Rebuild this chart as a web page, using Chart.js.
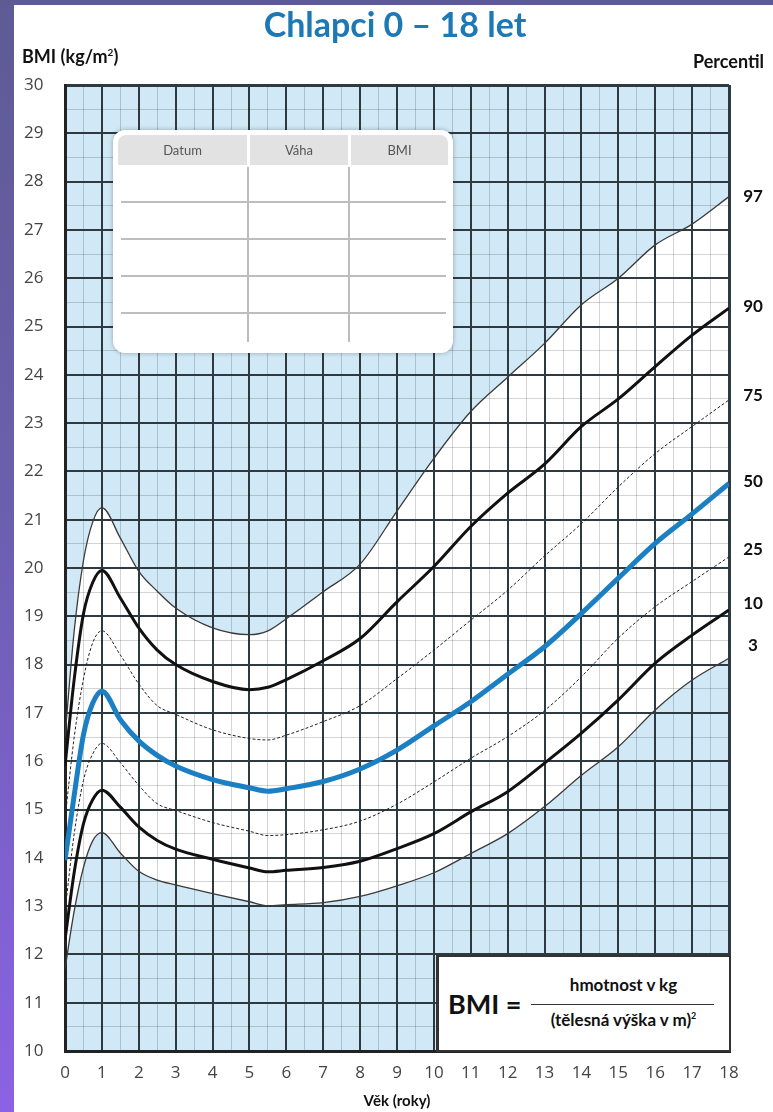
<!DOCTYPE html>
<html>
<head>
<meta charset="utf-8">
<script src="https://cdn.jsdelivr.net/npm/chart.js@4.4.1/dist/chart.umd.min.js"></script>
<style>
  html, body { margin: 0; padding: 0; }
  body {
    width: 773px; height: 1112px; overflow: hidden; position: relative;
    background: linear-gradient(180deg, #5e5b94 0%, #6a5fae 45%, #8b62e4 100%);
    font-family: 'Lato', 'DejaVu Sans', sans-serif;
  }
  #card { position: absolute; left: 14px; top: 5px; right: 0; bottom: 0; background: #fff; }
  #chart { position: absolute; left: 0; top: 0; }
  .txt { position: absolute; white-space: nowrap; color: #111; }
  #title { left: 0; width: 790px; top: 3px; text-align: center; font-size: 34px; font-weight: bold; color: #1d78b6; }
  #ylab { left: 22px; top: 45px; font-size: 18px; font-weight: bold; }
  #ylab sup { font-size: 10px; }
  #pct { right: 9px; top: 50px; font-size: 18px; font-weight: bold; }

  /* zapisova tabulka */
  #tab { position: absolute; left: 113px; top: 130px; width: 340px; height: 223px; background: #fff;
         border-radius: 12px; box-shadow: 0 0 5px rgba(0,0,0,0.3); }
  #tabHead { position: absolute; left: 5px; top: 5px; width: 330px; height: 30px; background: #e2e2e2; border-radius: 8px 8px 0 0; }
  .hcell { position: absolute; top: 0; height: 30px; line-height: 30px; text-align: center; font-size: 13px; color: #555; }
  .hgap { position: absolute; top: 0; width: 3px; height: 30px; background: #fff; }
  .hline { position: absolute; left: 8px; width: 325px; height: 2px; background: #bdbdbd; }
  .vline { position: absolute; top: 37px; width: 2px; height: 175px; background: #bdbdbd; }

  /* vzorec BMI */
  #formula { position: absolute; left: 436px; top: 955px; width: 290px; height: 93px; background: #fff;
             border: 2px solid #333; border-left-width: 3px; }
  #fBmi { position: absolute; left: 9px; top: 30px; font-size: 27px; font-weight: bold; }
  #fNum { position: absolute; left: 92px; width: 185px; top: 17px; text-align: center; font-size: 17px; font-weight: bold; }
  #fBar { position: absolute; left: 92px; width: 183px; top: 47px; height: 1px; background: #333; }
  #fDen { position: absolute; left: 92px; width: 185px; top: 52px; text-align: center; font-size: 17px; font-weight: bold; }
  #fDen sup { font-size: 9px; }
</style>
</head>
<body>
<div id="card"></div>
<canvas id="chart" width="773" height="1112"></canvas>

<div class="txt" id="title">Chlapci 0 – 18 let</div>
<div class="txt" id="ylab">BMI (kg/m<sup>2</sup>)</div>
<div class="txt" id="pct">Percentil</div>

<div id="tab">
  <div id="tabHead">
    <div class="hcell" style="left:0;width:129px;">Datum</div>
    <div class="hgap" style="left:129px;"></div>
    <div class="hcell" style="left:132px;width:98px;">Váha</div>
    <div class="hgap" style="left:230px;"></div>
    <div class="hcell" style="left:233px;width:97px;">BMI</div>
  </div>
  <div class="hline" style="top:71px;"></div>
  <div class="hline" style="top:108px;"></div>
  <div class="hline" style="top:145px;"></div>
  <div class="hline" style="top:182px;"></div>
  <div class="vline" style="left:134px;"></div>
  <div class="vline" style="left:235px;"></div>
</div>

<div id="formula">
  <div class="txt" id="fBmi">BMI =</div>
  <div class="txt" id="fNum">hmotnost v kg</div>
  <div id="fBar"></div>
  <div class="txt" id="fDen">(tělesná výška v m)<sup>2</sup></div>
</div>

<script>
//DATA - vek (roky) a percentily BMI
var ages = [0, 0.25, 0.5, 0.75, 1, 1.5, 2, 2.5, 3, 4, 5, 5.5, 6, 7, 8, 9, 10, 11, 12, 13, 14, 15, 16, 17, 18];
var p3  = [11.7, 12.9, 13.8, 14.35, 14.52, 14.1, 13.72, 13.54, 13.44, 13.26, 13.09, 13.01, 13.03, 13.07, 13.2, 13.42, 13.69, 14.09, 14.5, 15.06, 15.71, 16.3, 17.06, 17.68, 18.13];
var p10 = [12.3, 13.7, 14.7, 15.2, 15.4, 15.05, 14.64, 14.36, 14.18, 13.97, 13.79, 13.71, 13.74, 13.8, 13.93, 14.19, 14.5, 14.95, 15.37, 15.96, 16.58, 17.27, 18.03, 18.61, 19.13];
var p25 = [12.9, 14.5, 15.6, 16.15, 16.37, 15.97, 15.5, 15.12, 14.98, 14.73, 14.55, 14.46, 14.48, 14.58, 14.76, 15.11, 15.57, 16.06, 16.51, 17.05, 17.75, 18.55, 19.2, 19.72, 20.23];
var p50 = [13.95, 15.3, 16.55, 17.2, 17.45, 16.86, 16.42, 16.12, 15.9, 15.62, 15.45, 15.38, 15.43, 15.58, 15.84, 16.23, 16.73, 17.23, 17.8, 18.37, 19.06, 19.79, 20.51, 21.12, 21.75];
var p75 = [14.8, 16.5, 17.7, 18.45, 18.7, 18.2, 17.6, 17.15, 16.97, 16.65, 16.47, 16.44, 16.54, 16.82, 17.15, 17.71, 18.3, 18.92, 19.54, 20.25, 20.92, 21.68, 22.37, 22.93, 23.48];
var p90 = [15.9, 17.7, 19.05, 19.7, 19.95, 19.38, 18.76, 18.3, 18.0, 17.65, 17.48, 17.53, 17.69, 18.08, 18.54, 19.3, 20.03, 20.86, 21.55, 22.15, 22.93, 23.5, 24.17, 24.82, 25.38];
var p97 = [16.5, 18.7, 20.15, 20.95, 21.25, 20.62, 19.93, 19.52, 19.17, 18.76, 18.62, 18.7, 18.95, 19.51, 20.08, 21.18, 22.27, 23.24, 23.95, 24.65, 25.45, 26.0, 26.69, 27.12, 27.69];

//osy
var xRange = [0, 18];
var yRange = [10, 30];
var gridStep = 0.5;

//colors
var bgBlue = '#d1e9f6';
var majorGrid = '#2f3a40';
var minorGrid = 'rgba(0,0,0,0.17)';

//posun popisku percentilu (px) aby se neprekryvaly
var labelNudge = {'97': 0, '90': -2, '75': -4, '50': -2, '25': -7, '10': -7, '3': -13};

function pts(vals) {
  return ages.map(function(a, i) { return {x: a, y: vals[i]}; });
}

function gridColor(c) {
  return Number.isInteger(c.tick.value) ? majorGrid : minorGrid;
}
function gridWidthX(c) {
  var v = c.tick.value;
  if (v === xRange[0] || v === xRange[1]) return 3;
  return Number.isInteger(v) ? 2 : 1;
}
function gridWidthY(c) {
  var v = c.tick.value;
  if (v === yRange[0] || v === yRange[1]) return 3;
  return Number.isInteger(v) ? 2 : 1;
}
function intLabel(v) { return Number.isInteger(v) ? String(v) : ''; }

//percentil labels on the right
var pctLabelPlugin = {
  id: 'pctLabels',
  afterDatasetsDraw: function(chart) {
    var ctx = chart.ctx;
    ctx.save();
    ctx.font = 'bold 17px Lato';
    ctx.fillStyle = '#111';
    ctx.textAlign = 'center';
    ctx.textBaseline = 'middle';
    chart.data.datasets.forEach(function(ds, i) {
      var meta = chart.getDatasetMeta(i);
      var last = meta.data[meta.data.length - 1];
      ctx.fillText(ds.label, chart.chartArea.right + 24, last.y + (labelNudge[ds.label] || 0));
    });
    ctx.restore();
  }
};

var tickFont = {family: 'Open Sans', size: 17};

var ctx = document.getElementById('chart').getContext('2d');
var myChart = new Chart(ctx, {
  type: 'line',
  data: {
    datasets: [
      {label: '50', data: pts(p50), borderColor: '#1b7fc3', borderWidth: 5, fill: false},
      {label: '97', data: pts(p97), borderColor: '#3a3a3a', borderWidth: 1.3, fill: 'end', backgroundColor: bgBlue},
      {label: '90', data: pts(p90), borderColor: '#111', borderWidth: 3, fill: false},
      {label: '75', data: pts(p75), borderColor: '#222', borderWidth: 1, borderDash: [3, 2], fill: false},
      {label: '25', data: pts(p25), borderColor: '#222', borderWidth: 1, borderDash: [3, 2], fill: false},
      {label: '10', data: pts(p10), borderColor: '#111', borderWidth: 3, fill: false},
      {label: '3', data: pts(p3), borderColor: '#3a3a3a', borderWidth: 1.3, fill: 'start', backgroundColor: bgBlue}
    ]
  },
  options: {
    responsive: false,
    animation: false,
    devicePixelRatio: 1,
    layout: {padding: {left: 24, top: 85, right: 44, bottom: 0}},
    elements: {
      point: {radius: 0},
      line: {cubicInterpolationMode: 'monotone'}
    },
    plugins: {
      legend: {display: false},
      tooltip: {enabled: false},
      filler: {drawTime: 'beforeDraw'}
    },
    scales: {
      x: {
        type: 'linear', min: xRange[0], max: xRange[1],
        afterFit: function(s) { s.height = 61; },
        ticks: {stepSize: gridStep, maxTicksLimit: 100, autoSkip: false, maxRotation: 0, padding: 12,
                color: '#444', font: tickFont, callback: intLabel},
        grid: {color: gridColor, lineWidth: gridWidthX, drawTicks: false},
        border: {display: true, width: 3, color: '#222'},
        title: {display: true, text: 'Věk (roky)', color: '#111',
                font: {family: 'Lato', size: 15, weight: 'bold'}, padding: {top: 4, bottom: 2}}
      },
      y: {
        type: 'linear', min: yRange[0], max: yRange[1],
        afterFit: function(s) { s.width = 41; },
        ticks: {stepSize: gridStep, maxTicksLimit: 100, autoSkip: false, crossAlign: 'far', padding: 10,
                color: '#444', font: tickFont, callback: intLabel},
        grid: {color: gridColor, lineWidth: gridWidthY, drawTicks: false},
        border: {display: true, width: 3, color: '#222'}
      }
    }
  },
  plugins: [pctLabelPlugin]
});
</script>
</body>
</html>
